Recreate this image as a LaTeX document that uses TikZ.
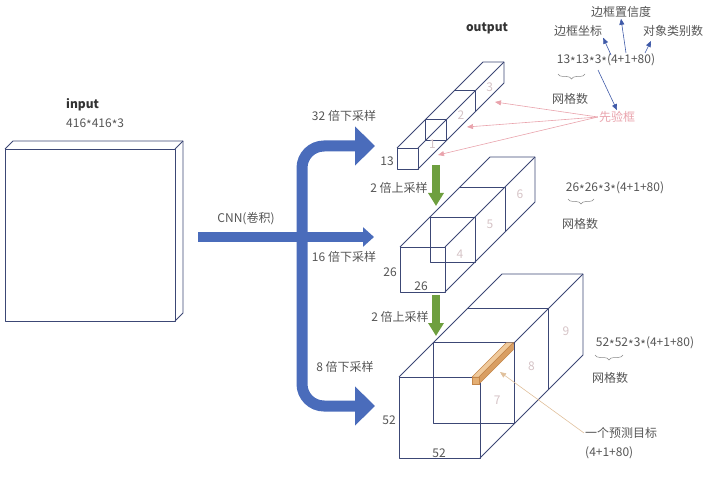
\documentclass[tikz,border=0pt]{standalone}
\usepackage{fontspec}
\setmainfont{Noto Sans CJK SC}
\usetikzlibrary{arrows.meta,calc,decorations.pathreplacing}
\definecolor{boxblue}{HTML}{3C4775}
\definecolor{flowblue}{HTML}{4A6CBB}
\definecolor{upgreen}{HTML}{6E9F3F}
\definecolor{labgray}{HTML}{555555}
\definecolor{cellgray}{HTML}{D5C3C6}
\definecolor{priorpink}{HTML}{E9A3AC}
\definecolor{bartop}{HTML}{F0CA9C}
\definecolor{barside}{HTML}{D99E62}
\definecolor{barfront}{HTML}{E4AE72}
\definecolor{bardraw}{HTML}{C4874B}
\definecolor{predtan}{HTML}{E0C09C}
\definecolor{notearrow}{HTML}{3F5AA8}
\newcommand\xmul{\raisebox{-0.35ex}{*}}
\begin{document}
\begin{tikzpicture}[
                x=1pt,y=-1pt,
                every node/.append style={font=\fontsize{12}{14}\selectfont,text=labgray,inner sep=1pt},
                boxline/.style={draw=boxblue,line width=0.8pt,line join=round},
                cellnum/.style={text=cellgray},
                title/.style={font=\fontsize{12}{14}\selectfont\bfseries,text=black!80},
                bigflow/.style={draw=flowblue,line width=11pt,rounded corners=22pt},
                upflow/.style={draw=upgreen,line width=8pt,-{Triangle[length=13pt,width=15pt]}},
                notelink/.style={draw=notearrow,line width=0.6pt,-{Triangle[length=6pt,width=5pt]}},
                priorlink/.style={draw=priorpink,line width=0.6pt,-{Triangle[length=6pt,width=5pt]}},
                gridbrace/.style={draw=labgray!70,line width=0.5pt,decorate,decoration={brace,amplitude=5pt,mirror}}
            ]
                \useasboundingbox (0,0) rectangle (720,481);

                % input
                \coordinate (in) at (5,149);
                \draw[boxline] (in) rectangle (175,321);
                \draw[boxline] (in) -- ++(8,-8) -- (183,141) -- (183,313) -- (175,321);
                \draw[boxline] (175,149) -- (183,141);
                \node[title,anchor=west] (inlab) at (65,105) {input};
                \node[anchor=west] (insize) at (65,124) {416\xmul416\xmul3};

                % output prisms
                \foreach \n/\fx/\fy/\s/\d/\k in {13/397/148/21/86/1,26/400/247/45/90/4,52/399/377/81/103/7}{
                    \pgfmathsetmacro\t{\d/3}
                    \coordinate (b\n) at (\fx,\fy);
                    \draw[boxline] (b\n) rectangle ++(\s,\s);
                    \draw[boxline] (b\n) -- ++(\d,-\d) -- ++(\s,0) -- ++(0,\s) -- ++(-\d,\d);
                    \draw[boxline] ($(b\n)+(\s,0)$) -- ++(\d,-\d);
                    \draw[boxline] ($(b\n)+(\t,-\t)$) rectangle ++(\s,\s);
                    \draw[boxline] ($(b\n)+(2*\t,-2*\t)$) -- ++(\s,0) -- ++(0,\s);
                    \foreach \i in {1,2,3}{
                        \pgfmathtruncatemacro\c{\k+\i-1}
                        \node[cellnum] (c\c) at ($(b\n)+(\s+\i*\t-\t/2,\s/2-\i*\t+\t/2)$) {\c};
                    }
                    \node[anchor=east] (side\n) at ($(b\n)+(-2,\s/2+3)$) {\n};
                }
                \node[anchor=south] (bot26) at (421,292) {26};
                \node[anchor=south] (bot52) at (439,459) {52};
                \node[title] (out) at (487,28) {output};

                % one predicted target
                \coordinate (bar) at (472,377);
                \draw[bardraw,fill=bartop,line width=0.4pt] (bar) -- ++(7,0) -- ++(34.3,-34.3) -- ++(-7,0) -- cycle;
                \draw[bardraw,fill=barside,line width=0.4pt] ($(bar)+(7,0)$) -- ++(0,7) -- ++(34.3,-34.3) -- ++(0,-7) -- cycle;
                \draw[bardraw,fill=barfront,line width=0.4pt] (bar) rectangle ++(7,7);

                % CNN flows
                \coordinate (cnnstart) at (198,237);
                \coordinate (in16) at (374,237);
                \coordinate (in32) at (375,146);
                \coordinate (in8) at (375,406);
                \coordinate (trunk) at (302,276);
                \draw[bigflow,{Triangle[length=20pt,width=38pt]}-{Triangle[length=20pt,width=38pt]}] (in32) -| (trunk) |- (in8);
                \draw[draw=flowblue,line width=10pt,-{Triangle[length=11pt,width=19pt]}] (cnnstart) -- (in16);
                \node (cnn) at (246,219) {CNN(卷积)};
                \node (ds32) at (344,116) {32 倍下采样};
                \node (ds16) at (344,257) {16 倍下采样};
                \node (ds8) at (345,367) {8 倍下采样};

                % upsampling
                \coordinate (up1s) at (436,165);
                \coordinate (up1e) at (436,206);
                \coordinate (up2s) at (436,295);
                \coordinate (up2e) at (436,336);
                \draw[upflow] (up1s) -- (up1e);
                \draw[upflow] (up2s) -- (up2e);
                \node (us1) at (399,188) {2 倍上采样};
                \node (us2) at (400,317) {2 倍上采样};

                % notes
                \node (f13) at (606,60) {13\xmul13\xmul3\xmul(4+1+80)};
                \node (g13) at (570,99) {网格数};
                \node[text=priorpink] (prior) at (617,117) {先验框};
                \node (bbox) at (578,31) {边框坐标};
                \node (conf) at (621,12) {边框置信度};
                \node (cls) at (673,31) {对象类别数};
                \draw[gridbrace] (558,74) -- (585,74);
                \draw[notelink] (611,55) -- (bbox.south east);
                \draw[notelink] (626,53) -- (conf.south);
                \draw[notelink] (645,53) -- (651,41);
                \draw[notelink] (598,70) -- (prior.north);
                \draw[priorlink] (prior.west) -- (495,102);
                \draw[priorlink] (prior.west) -- (467,127);
                \draw[priorlink] (prior.west) -- (438,155);

                \node (f26) at (615,188) {26\xmul26\xmul3\xmul(4+1+80)};
                \node (g26) at (580,224) {网格数};
                \draw[gridbrace] (568,199) -- (594,199);

                \node (f52) at (645,343) {52\xmul52\xmul3\xmul(4+1+80)};
                \node (g52) at (610,378) {网格数};
                \draw[gridbrace] (595,355) -- (623,355);

                \node[anchor=west] (pred) at (584,433) {一个预测目标};
                \node[anchor=west] (predsize) at (584,453) {(4+1+80)};
                \draw[draw=predtan,line width=0.6pt,-{Triangle[length=6pt,width=5pt]}] (pred.west) -- (500,372);
            \end{tikzpicture}
\end{document}
